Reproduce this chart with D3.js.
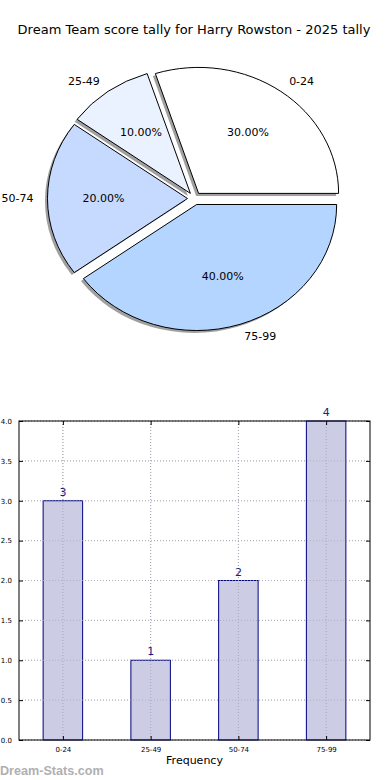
<!DOCTYPE html>
<html>
<head>
<meta charset="utf-8">
<script src="https://cdn.jsdelivr.net/npm/d3@7"></script>
<style>
  body { margin: 0; background: #fff; }
  svg { display: block; font-family: "DejaVu Sans", sans-serif; }
</style>
</head>
<body>
<div id="chart"></div>
<script>
// data
var categories = ["0-24", "25-49", "50-74", "75-99"];
var counts = [3, 1, 2, 4];
var sliceColors = ["#ffffff", "#eaf1ff", "#c6d9ff", "#b3d5ff"];
var yTicks = [0, 0.5, 1, 1.5, 2, 2.5, 3, 3.5, 4];

var W = 390, H = 780;
var svg = d3.select("#chart").append("svg")
  .attr("width", W).attr("height", H);

svg.append("text")
  .attr("x", 194).attr("y", 34)
  .attr("text-anchor", "middle")
  .style("font-size", "13px")
  .text("Dream Team score tally for Harry Rowston - 2025 tally");

//---------- pie (matplotlib style, counterclockwise from 3 o'clock) ----------
var cx = 194.5, cy = 198.5, rx = 140, ry = 126, explode = 0.05;
var total = d3.sum(counts);

var pie = d3.pie().sort(null)
  .startAngle(Math.PI / 2)
  .endAngle(Math.PI / 2 - 2 * Math.PI)(counts);

var arc = d3.arc().innerRadius(0).outerRadius(1);

var pieG = svg.append("g")
  .attr("transform", "translate(" + cx + "," + cy + ") scale(" + rx + "," + ry + ")");

function mid(d) { return (d.startAngle + d.endAngle) / 2; }
function ox(d, r) { return Math.sin(mid(d)) * r; }
function oy(d, r) { return -Math.cos(mid(d)) * r; }

// shadows first
pieG.selectAll(".shadow")
  .data(pie).enter().append("path")
  .attr("class", "shadow")
  .attr("transform", function(d) {
    return "translate(" + (ox(d, explode) - 2.5 / rx) + "," + (oy(d, explode) + 2.5 / ry) + ")";
  })
  .attr("d", arc)
  .attr("fill", "#a0a0a0");

pieG.selectAll(".slice")
  .data(pie).enter().append("path")
  .attr("class", "slice")
  .attr("transform", function(d) {
    return "translate(" + ox(d, explode) + "," + oy(d, explode) + ")";
  })
  .attr("d", arc)
  .attr("fill", function(d, i) { return sliceColors[i]; })
  .attr("stroke", "#000")
  .attr("stroke-width", 1)
  .attr("vector-effect", "non-scaling-stroke");

// category labels
svg.selectAll(".plabel")
  .data(pie).enter().append("text")
  .attr("class", "plabel")
  .attr("x", function(d) { return cx + ox(d, 1.1 + explode) * rx; })
  .attr("y", function(d) { return cy + oy(d, 1.1 + explode) * ry; })
  .attr("dy", "0.35em")
  .attr("text-anchor", function(d) { return ox(d, 1) > 0 ? "start" : "end"; })
  .style("font-size", "11px")
  .text(function(d, i) { return categories[i]; });

// percentages
svg.selectAll(".pct")
  .data(pie).enter().append("text")
  .attr("class", "pct")
  .attr("x", function(d) { return cx + ox(d, 0.6 + explode) * rx; })
  .attr("y", function(d) { return cy + oy(d, 0.6 + explode) * ry; })
  .attr("dy", "0.35em")
  .attr("text-anchor", "middle")
  .style("font-size", "11px")
  .text(function(d) { return (d.value / total * 100).toFixed(2) + "%"; });

//---------- bar chart ----------
var plotLeft = 19, plotRight = 370, plotTop = 421, plotBottom = 740;

var x = d3.scalePoint().domain(categories).range([plotLeft, plotRight]).padding(0.5);
var y = d3.scaleLinear().domain([0, 4]).range([plotBottom, plotTop]);
var barW = x.step() * 0.45;

var bg = svg.append("g");

// grid
bg.selectAll(".hgrid").data(yTicks).enter().append("line")
  .attr("x1", plotLeft).attr("x2", plotRight)
  .attr("y1", function(d) { return y(d); }).attr("y2", function(d) { return y(d); })
  .attr("stroke", "#b8b8b8").attr("stroke-dasharray", "1,2");
bg.selectAll(".vgrid").data(categories).enter().append("line")
  .attr("y1", plotTop).attr("y2", plotBottom)
  .attr("x1", function(d) { return x(d); }).attr("x2", function(d) { return x(d); })
  .attr("stroke", "#b8b8b8").attr("stroke-dasharray", "1,2");

// bars
bg.selectAll(".bar").data(counts).enter().append("rect")
  .attr("x", function(d, i) { return x(categories[i]) - barW / 2; })
  .attr("y", function(d) { return y(d); })
  .attr("width", barW)
  .attr("height", function(d) { return plotBottom - y(d); })
  .attr("fill", "#ccccE5")
  .attr("stroke", "#000080")
  .attr("stroke-width", 1);

// grid over bars (matplotlib draws it on top here)
bg.selectAll(".vgrid2").data(categories).enter().append("line")
  .attr("y1", plotTop).attr("y2", plotBottom)
  .attr("x1", function(d) { return x(d); }).attr("x2", function(d) { return x(d); })
  .attr("stroke", "#a8a8b8").attr("stroke-dasharray", "1,2");
bg.selectAll(".hgrid2").data(yTicks).enter().append("line")
  .attr("x1", plotLeft).attr("x2", plotRight)
  .attr("y1", function(d) { return y(d); }).attr("y2", function(d) { return y(d); })
  .attr("stroke", "#a8a8b8").attr("stroke-dasharray", "1,2")
  .attr("stroke-opacity", 0.7);

// value labels
bg.selectAll(".val").data(counts).enter().append("text")
  .attr("x", function(d, i) { return x(categories[i]); })
  .attr("y", function(d) { return y(d) - 5; })
  .attr("text-anchor", "middle")
  .attr("fill", "#1a1a8a")
  .style("font-size", "11px")
  .text(function(d) { return d; });

// axes box
bg.append("rect")
  .attr("x", plotLeft).attr("y", plotTop)
  .attr("width", plotRight - plotLeft).attr("height", plotBottom - plotTop)
  .attr("fill", "none").attr("stroke", "#000").attr("stroke-width", 1);

// y axis (ticks inward)
var yAxis = bg.append("g")
  .attr("transform", "translate(" + plotLeft + ",0)")
  .call(d3.axisLeft(y).tickValues(yTicks).tickFormat(d3.format(".1f")).tickSizeInner(-4).tickSizeOuter(0).tickPadding(7));
yAxis.select(".domain").remove();
yAxis.selectAll("text").style("font-size", "7px").style("font-family", "DejaVu Sans");

var yAxisR = bg.append("g")
  .attr("transform", "translate(" + plotRight + ",0)")
  .call(d3.axisRight(y).tickValues(yTicks).tickFormat("").tickSizeInner(-4).tickSizeOuter(0));
yAxisR.select(".domain").remove();

var xAxis = bg.append("g")
  .attr("transform", "translate(0," + plotBottom + ")")
  .call(d3.axisBottom(x).tickSizeInner(-4).tickSizeOuter(0).tickPadding(7));
xAxis.select(".domain").remove();
xAxis.selectAll("text").style("font-size", "7px").style("font-family", "DejaVu Sans");

var xAxisT = bg.append("g")
  .attr("transform", "translate(0," + plotTop + ")")
  .call(d3.axisTop(x).tickFormat("").tickSizeInner(-4).tickSizeOuter(0));
xAxisT.select(".domain").remove();

svg.append("text")
  .attr("x", (plotLeft + plotRight) / 2).attr("y", 764)
  .attr("text-anchor", "middle")
  .style("font-size", "11px")
  .text("Frequency");

// watermark
svg.append("text")
  .attr("x", 0).attr("y", 775)
  .attr("fill", "#b0b0b0")
  .style("font-family", "'Liberation Sans', Arial, sans-serif")
  .style("font-weight", "bold")
  .style("font-size", "12.6px")
  .text("Dream-Stats.com");
</script>
</body>
</html>
